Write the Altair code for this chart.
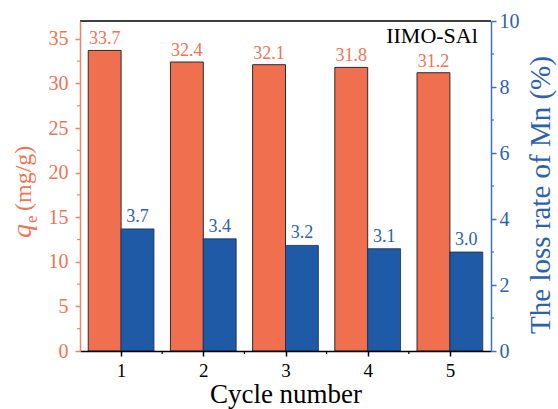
import altair as alt
import pandas as pd

# Data
cycles = [1, 2, 3, 4, 5]
qe_values = [33.7, 32.4, 32.1, 31.8, 31.2]          # adsorption capacity, mg/g
loss_values = [3.7, 3.4, 3.2, 3.1, 3.0]             # Mn loss rate, %
left_ticks = [0, 5, 10, 15, 20, 25, 30, 35]
left_minor = [2.5, 7.5, 12.5, 17.5, 22.5, 27.5, 32.5]
right_ticks = [0, 2, 4, 6, 8, 10]
right_minor = [1, 3, 5, 7, 9]
x_minor = [1.5, 2.5, 3.5, 4.5]

SERIF = "Liberation Serif"
ORANGE = "#EF6F4F"
ORANGE_TXT = "#EE7454"
ORANGE_AX = "#F08466"
BLUE = "#1F5AA6"
BLUE_TXT = "#2B62AA"
BLUE_AX = "#3F72B8"

W, H = 411, 330

df = pd.DataFrame({"cycle": cycles, "qe": qe_values, "loss": loss_values})

x_scale = alt.Scale(domain=[0.5, 5.5], nice=False, zero=False)
yl_scale = alt.Scale(domain=[0, 37], nice=False)
yr_scale = alt.Scale(domain=[0, 10], nice=False)

x_axis = alt.Axis(
    values=cycles, format="d", title="Cycle number", grid=False,
    labelFont=SERIF, labelFontSize=19, labelColor="black", labelPadding=5,
    titleFont=SERIF, titleFontSize=27, titleFontWeight="normal", titleColor="black",
    titlePadding=1, domainColor="black", domainWidth=1.5, tickColor="black",
    tickSize=5, tickWidth=1.5, zindex=1,
)
left_axis = alt.Axis(
    orient="left", values=left_ticks, title=None, grid=False,
    labelFont=SERIF, labelFontSize=20, labelColor=ORANGE_TXT, labelPadding=7,
    domainColor=ORANGE_AX, domainWidth=1.5, tickColor=ORANGE_AX,
    tickSize=5, tickWidth=1.5, zindex=1,
)
right_axis = alt.Axis(
    orient="right", values=right_ticks, title=None, grid=False,
    labelFont=SERIF, labelFontSize=20, labelColor=BLUE_TXT, labelPadding=3,
    domainColor=BLUE_AX, domainWidth=1.5, tickColor=BLUE_AX,
    tickSize=5, tickWidth=1.5, zindex=1,
)

base = alt.Chart(df)

# Left scale: adsorption capacity
orange_bars = base.transform_calculate(x0="datum.cycle - 0.4").mark_rect(
    color=ORANGE, stroke="#2b2b2b", strokeWidth=1
).encode(
    x=alt.X("x0:Q", scale=x_scale, axis=x_axis),
    x2="cycle:Q",
    y=alt.Y("qe:Q", scale=yl_scale, axis=left_axis),
    y2=alt.datum(0),
)

orange_labels = base.transform_calculate(xc="datum.cycle - 0.2").mark_text(
    font=SERIF, fontSize=18, color=ORANGE_TXT, baseline="bottom", dy=-2
).encode(
    x=alt.X("xc:Q", scale=x_scale, axis=x_axis),
    y=alt.Y("qe:Q", scale=yl_scale, axis=left_axis),
    text=alt.Text("qe:Q", format=".1f"),
)

left_minor_ticks = alt.Chart(pd.DataFrame({"v": left_minor})).mark_rule(
    color=ORANGE_AX, strokeWidth=1.2
).encode(
    y=alt.Y("v:Q", scale=yl_scale, axis=left_axis),
    x=alt.value(-3), x2=alt.value(0),
)

x_minor_ticks = alt.Chart(pd.DataFrame({"v": x_minor})).mark_rule(
    color="black", strokeWidth=1.2
).encode(
    x=alt.X("v:Q", scale=x_scale, axis=x_axis),
    y=alt.value(H), y2=alt.value(H + 3),
)

one = pd.DataFrame({"a": [0]})

frame_top = alt.Chart(one).mark_rule(
    color="black", strokeWidth=1.5
).encode(x=alt.value(0), x2=alt.value(W), y=alt.value(0))

# Left axis title: italic q with subscript e, then the unit
q_text = alt.Chart(one).mark_text(
    text="q", font=SERIF, fontSize=28, fontStyle="italic", color=ORANGE_TXT,
    angle=270, align="left", baseline="alphabetic"
).encode(x=alt.value(-49), y=alt.value(217))
e_text = alt.Chart(one).mark_text(
    text="e", font=SERIF, fontSize=17, color=ORANGE_TXT,
    angle=270, align="left", baseline="alphabetic"
).encode(x=alt.value(-43), y=alt.value(202))
unit_text = alt.Chart(one).mark_text(
    text="(mg/g)", font=SERIF, fontSize=24, color=ORANGE_TXT,
    angle=270, align="left", baseline="alphabetic"
).encode(x=alt.value(-49), y=alt.value(190))

sample_text = alt.Chart(one).mark_text(
    text="IIMO-SAl", font=SERIF, fontSize=22, color="black",
    align="center", baseline="alphabetic"
).encode(x=alt.value(352), y=alt.value(22))

left_group = alt.layer(
    orange_bars, orange_labels, left_minor_ticks, x_minor_ticks,
    frame_top, q_text, e_text, unit_text, sample_text,
)

# Right scale: Mn loss rate
blue_bars = base.transform_calculate(x1="datum.cycle + 0.4").mark_rect(
    color=BLUE, stroke="#1b2d4f", strokeWidth=0.8
).encode(
    x=alt.X("cycle:Q", scale=x_scale, axis=x_axis),
    x2="x1:Q",
    y=alt.Y("loss:Q", scale=yr_scale, axis=right_axis),
    y2=alt.datum(0),
)

blue_labels = base.transform_calculate(xc="datum.cycle + 0.2").mark_text(
    font=SERIF, fontSize=18, color=BLUE_TXT, baseline="bottom", dy=-3
).encode(
    x=alt.X("xc:Q", scale=x_scale, axis=x_axis),
    y=alt.Y("loss:Q", scale=yr_scale, axis=right_axis),
    text=alt.Text("loss:Q", format=".1f"),
)

right_minor_ticks = alt.Chart(pd.DataFrame({"v": right_minor})).mark_rule(
    color=BLUE_AX, strokeWidth=1.2
).encode(
    y=alt.Y("v:Q", scale=yr_scale, axis=right_axis),
    x=alt.value(W), x2=alt.value(W + 3),
)

right_title = alt.Chart(one).mark_text(
    text="The loss rate of Mn (%)", font=SERIF, fontSize=29, color=BLUE_TXT,
    angle=270, align="center", baseline="alphabetic"
).encode(x=alt.value(470), y=alt.value(174))

right_group = alt.layer(blue_bars, blue_labels, right_minor_ticks, right_title)

chart = alt.layer(left_group, right_group).resolve_scale(
    y="independent"
).properties(
    width=W, height=H,
    autosize=alt.AutoSizeParams(type="none"),
    padding={"left": 80, "top": 21, "right": 67, "bottom": 58},
).configure_view(stroke=None)

chart.save("out.html", embed_options={"renderer": "svg", "actions": False})
